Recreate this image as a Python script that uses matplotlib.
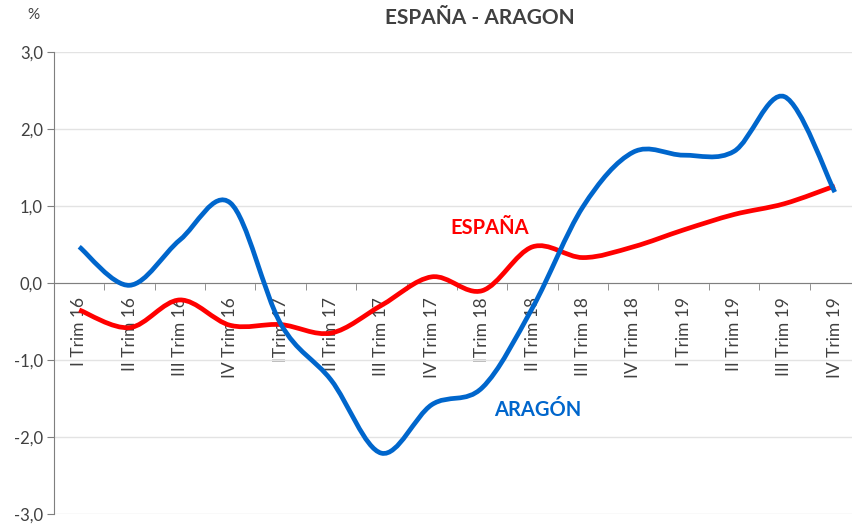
import numpy as np
import matplotlib
matplotlib.use("Agg")
import matplotlib.pyplot as plt
from matplotlib.path import Path
from matplotlib.patches import PathPatch
from matplotlib.ticker import FixedLocator, FuncFormatter

plt.rcParams['font.family'] = ['Lato', 'DejaVu Sans']

quarters = ["I Trim 16", "II Trim 16", "III Trim 16", "IV Trim 16",
            "ITrim 17", "II Trim 17", "III Trim 17", "IV Trim 17",
            "ITrim 18", "II Trim 18", "III Trim 18", "IV Trim 18",
            "I Trim 19", "II Trim 19", "III Trim 19", "IV Trim 19"]

espana = [-0.35, -0.58, -0.22, -0.55, -0.54, -0.65, -0.29, 0.08,
          -0.10, 0.47, 0.33, 0.47, 0.69, 0.89, 1.03, 1.26]
aragon = [0.47, -0.03, 0.56, 1.04, -0.53, -1.26, -2.21, -1.58,
          -1.36, -0.32, 0.99, 1.70, 1.66, 1.71, 2.42, 1.18]

RED = "#FF0000"
BLUE = "#0066CC"


def smooth_path(xs, ys):
    # Excel-like smoothed line: cubic Bezier segments through every point
    p = np.column_stack([xs, ys]).astype(float)
    n = len(p)
    verts = [p[0]]
    codes = [Path.MOVETO]
    for i in range(n - 1):
        p0 = p[i - 1] if i > 0 else p[i]
        p3 = p[i + 2] if i + 2 < n else p[i + 1]
        c1 = p[i] + (p[i + 1] - p0) / 6
        c2 = p[i + 1] - (p3 - p[i]) / 6
        verts += [c1, c2, p[i + 1]]
        codes += [Path.CURVE4] * 3
    return Path(verts, codes)


fig = plt.figure(figsize=(8.52, 5.25), dpi=100)
ax = fig.add_axes([54 / 852, 1 - 514 / 525, (860 - 54) / 852, (514 - 52) / 525])

x = np.arange(len(quarters))
for vals, col in [(espana, RED), (aragon, BLUE)]:
    ax.add_patch(PathPatch(smooth_path(x, vals), facecolor="none",
                           edgecolor=col, lw=3.4, capstyle="butt", zorder=3))

ax.set_xlim(-0.5, len(quarters) - 0.5)
ax.set_ylim(-3, 3)
ax.set_yticks(np.arange(-3, 4, 1))
ax.yaxis.set_major_formatter(FuncFormatter(lambda v, _: f"{v:.1f}".replace(".", ",")))
ax.grid(axis="y", color="#E3E3E3", lw=1)
ax.set_axisbelow(True)

for s in ["top", "right"]:
    ax.spines[s].set_visible(False)
ax.spines["bottom"].set_position(("data", 0))
ax.spines["bottom"].set_color("#7F7F7F")
ax.spines["left"].set_color("#7F7F7F")

ax.set_xticks(x)
ax.set_xticklabels(quarters, rotation=90)
ax.xaxis.set_minor_locator(FixedLocator(np.arange(-0.5, len(quarters), 1)))
ax.tick_params(axis="x", which="major", length=0, pad=10, labelsize=12.5, labelcolor="#404040")
ax.tick_params(axis="x", which="minor", length=5, color="#7F7F7F", direction="out")
ax.tick_params(axis="y", length=5, color="#7F7F7F", labelsize=12, labelcolor="#404040", pad=3)

fig.text(480 / 852, 1 - 18 / 525, "ESPAÑA - ARAGON", ha="center", va="center",
         fontsize=15, fontweight="bold", color="#404040")
fig.text(33 / 852, 1 - 15 / 525, "%", ha="center", va="center", fontsize=11, color="#404040")

ax.text(8.15, 0.72, "ESPAÑA", color=RED, fontsize=14.5, fontweight="bold", ha="center", va="center")
ax.text(9.1, -1.65, "ARAGÓN", color=BLUE, fontsize=14.5, fontweight="bold", ha="center", va="center")

fig.savefig("out.png", dpi=100)
